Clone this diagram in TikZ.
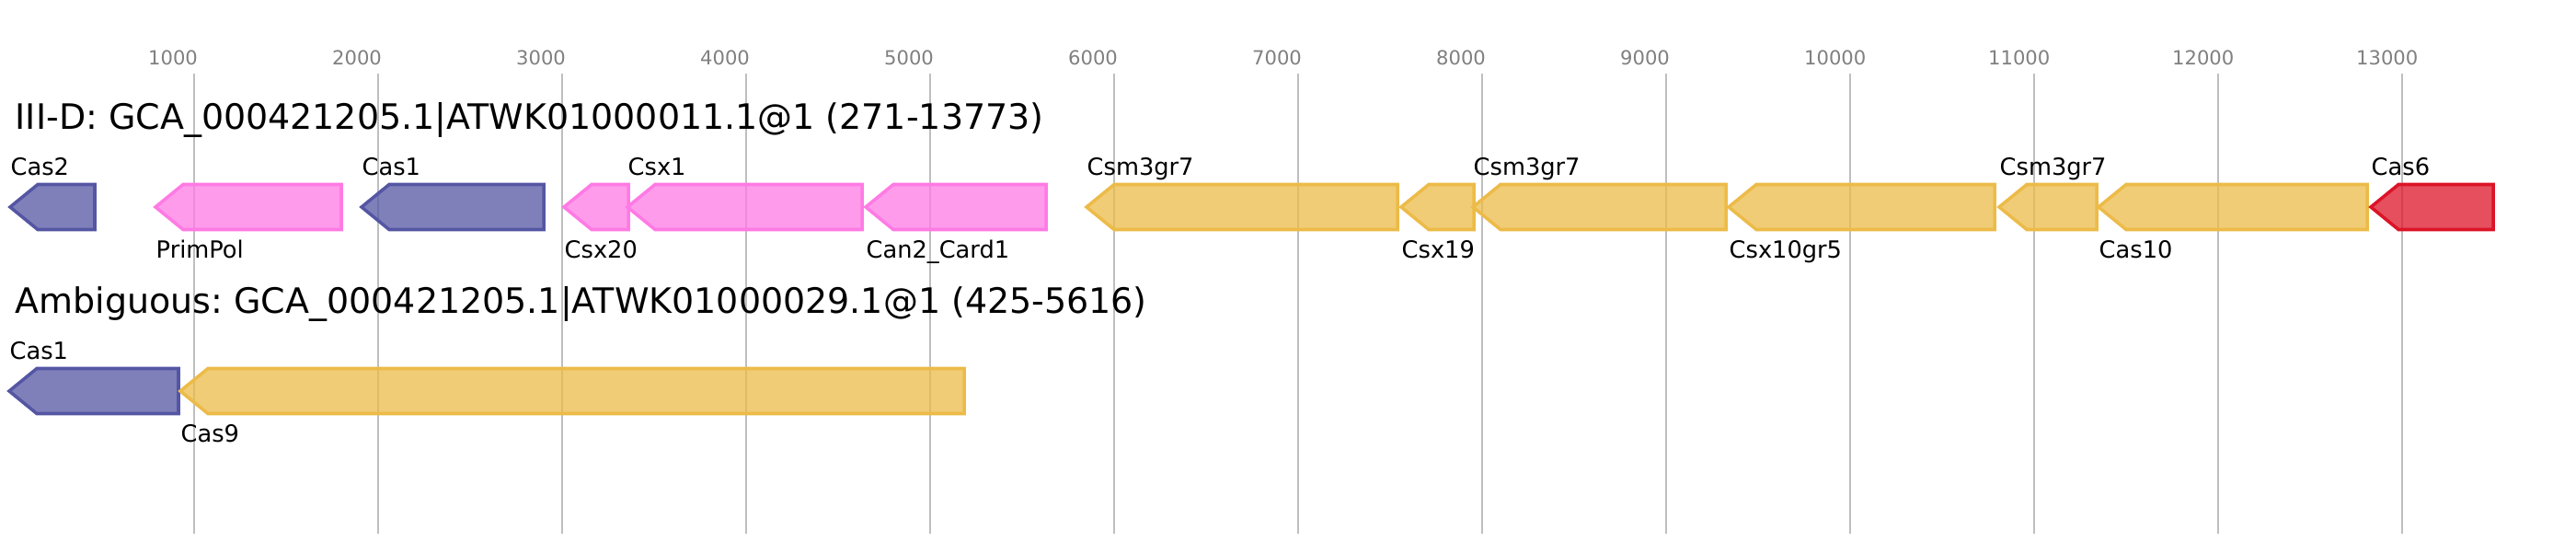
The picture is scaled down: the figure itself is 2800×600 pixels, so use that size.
\documentclass[tikz,border=0pt]{standalone}
\usepackage{fontspec}
\setmainfont{DejaVu Sans}
\frenchspacing

\definecolor{casblue}{RGB}{84,86,163}
\definecolor{caspink}{RGB}{255,122,228}
\definecolor{casgold}{RGB}{236,187,72}
\definecolor{casred}{RGB}{220,20,40}
\definecolor{gridgray}{RGB}{190,190,190}
\definecolor{tickgray}{RGB}{128,128,128}

\tikzset{
  gene/.style={line width=1pt, fill opacity=0.75, line join=miter},
  genelabel/.style={anchor=base west, inner sep=0pt, font=\fontsize{7.3}{8}\selectfont},
  tracktitle/.style={anchor=base west, inner sep=0pt, font=\fontsize{10.8}{12}\selectfont\frenchspacing},
  ticklabel/.style={anchor=base west, inner sep=0pt, text=tickgray, font=\fontsize{6}{7}\selectfont},
  gridline/.style={gridgray, line width=0.57pt}
}

% left-pointing gene: tip x, right x, centre y, colour
\newcommand{\genearrow}[4]{%
  \draw[gene, draw=#4, fill=#4] (#1,#3) -- (#1+30,#3-24.5) -- (#2,#3-24.5)
    -- (#2,#3+24.5) -- (#1+30,#3+24.5) -- cycle;}

\begin{document}
\begin{tikzpicture}[x=0.01cm, y=-0.01cm]
  \useasboundingbox (0,0) rectangle (2800,600);

  % Grid lines and scale (draw FIRST)
  \foreach \k in {1,...,13} {
    \draw[gridline] (10.5+200*\k,80) -- (10.5+200*\k,580);
    \node[ticklabel] (tick\k) at (200*\k-39.5,70) {\k000};
  }

  % Track 1: III-D
  \node[tracktitle] (title3d) at (16,140) {III-D: GCA\_000421205.1|ATWK01000011.1@1 (271-13773)};

  \genearrow{11}{103}{225}{casblue}
  \genearrow{169}{371}{225}{caspink}
  \genearrow{393}{591}{225}{casblue}
  \genearrow{613}{683}{225}{caspink}
  \genearrow{682}{937}{225}{caspink}
  \genearrow{941}{1137}{225}{caspink}
  \genearrow{1181}{1519}{225}{casgold}
  \genearrow{1523}{1602}{225}{casgold}
  \genearrow{1601}{1876}{225}{casgold}
  \genearrow{1879}{2168}{225}{casgold}
  \genearrow{2173}{2279}{225}{casgold}
  \genearrow{2281}{2573}{225}{casgold}
  \genearrow{2577}{2710}{225}{casred}

  % Gene names, above and below in turn
  \node[genelabel] (cas2) at (11,190) {Cas2};
  \node[genelabel] (primpol) at (169,280) {PrimPol};
  \node[genelabel] (cas1a) at (393,190) {Cas1};
  \node[genelabel] (csx20) at (613,280) {Csx20};
  \node[genelabel] (csx1) at (682,190) {Csx1};
  \node[genelabel] (can2) at (941,280) {Can2\_Card1};
  \node[genelabel] (csm3a) at (1181,190) {Csm3gr7};
  \node[genelabel] (csx19) at (1523,280) {Csx19};
  \node[genelabel] (csm3b) at (1601,190) {Csm3gr7};
  \node[genelabel] (csx10) at (1879,280) {Csx10gr5};
  \node[genelabel] (csm3c) at (2173,190) {Csm3gr7};
  \node[genelabel] (cas10) at (2281,280) {Cas10};
  \node[genelabel] (cas6) at (2577,190) {Cas6};

  % Track 2: ambiguous
  \node[tracktitle] (titleamb) at (16,340) {Ambiguous: GCA\_000421205.1|ATWK01000029.1@1 (425-5616)};

  \genearrow{10}{194}{425}{casblue}
  \genearrow{196}{1048}{425}{casgold}

  \node[genelabel] (cas1b) at (10,390) {Cas1};
  \node[genelabel] (cas9) at (196,480) {Cas9};

\end{tikzpicture}
\end{document}
